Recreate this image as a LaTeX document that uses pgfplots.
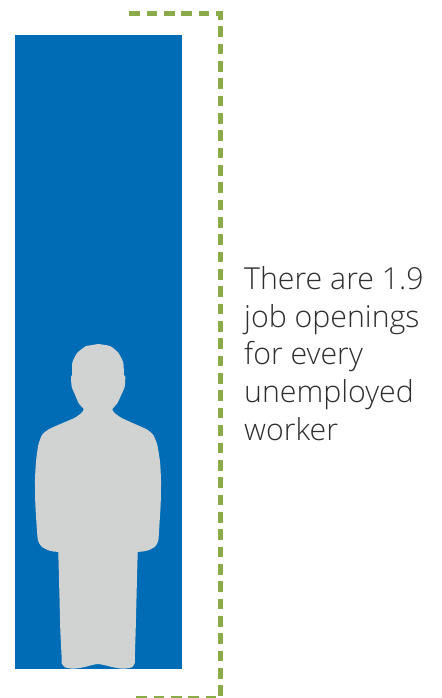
\documentclass[border=0pt]{standalone}
\usepackage{fontspec}
\setmainfont{Open Sans}[UprightFont={* Light}]
\usepackage{pgfplots}
\pgfplotsset{compat=1.18}
\definecolor{barblue}{HTML}{006CB5}
\definecolor{figgray}{HTML}{D1D3D3}
\definecolor{bracket}{HTML}{8AAB47}
\definecolor{txt}{HTML}{2E2E30}
\begin{document}
\begin{tikzpicture}
\begin{axis}[
  scale only axis, width=442bp, height=698bp,
  xmin=0, xmax=442, ymin=0, ymax=698, y dir=reverse,
  hide axis, clip=true]
% full drawing area
\path (axis cs:0,0) rectangle (axis cs:442,698);
% blue bar
\addplot[draw=none, fill=barblue] coordinates {(15,35) (182,35) (182,669) (15,669)} -- cycle;
% person silhouette
\addplot[draw=none, fill=figgray, smooth, tension=0.35] coordinates {
(98,344) (110,346) (118.3,352.7) (123.3,362.7) (124,375) (125.3,376.7) (124.7,386.7) (121.7,394)
(117.3,403.3) (112.3,409.3) (115,413.3) (121.7,418) (133.3,423.3) (146.7,429.3) (153.3,435)
(157.3,445) (160,461.7) (161,480) (160.7,503.3) (159.3,526.7) (158.3,540.7) (155,546.7) (148.3,550.3)
(142,551.6) (137.8,552) (137.7,554.5) (137.5,560) (136.7,590) (135.7,630) (134.9,655) (134.7,663.3) (131.7,667.3) (123.3,668.7) (113.3,667.3) (98,664)
(83.3,667.3) (73.3,668.7) (65,667.3) (61.7,663.3) (61.5,655) (60.3,630) (59.3,590) (58.5,560) (58.3,554.5) (58.2,552) (54,551.6)
(48.3,550.3) (41.7,546.7) (38,540.7) (36.7,526.7) (35.3,503.3) (35,480) (36,461.7) (38.3,445)
(42,435) (48.7,429.3) (62,423.3) (74.3,418) (81,413.3) (83.7,409.3) (78.7,403.3) (74.7,394)
(71.7,386.7) (71,376.7) (72,375) (72.3,362.7) (77.3,352.7) (86,346)} -- cycle;
% dashed bracket
\addplot[bracket, line width=5.5bp, line cap=butt, line join=miter,
  dash pattern=on 10.67bp off 6.67bp] coordinates {
  (129.3,13.5) (220.5,13.5) (220.5,698.5) (136,698.5)};
\node[anchor=north west, inner sep=0pt, align=left, text=txt,
  font=\fontsize{30.4}{38}\selectfont] at (axis cs:244,266) {There are 1.9\\job openings\\for every\\unemployed\\worker};
\end{axis}
\end{tikzpicture}
\end{document}
